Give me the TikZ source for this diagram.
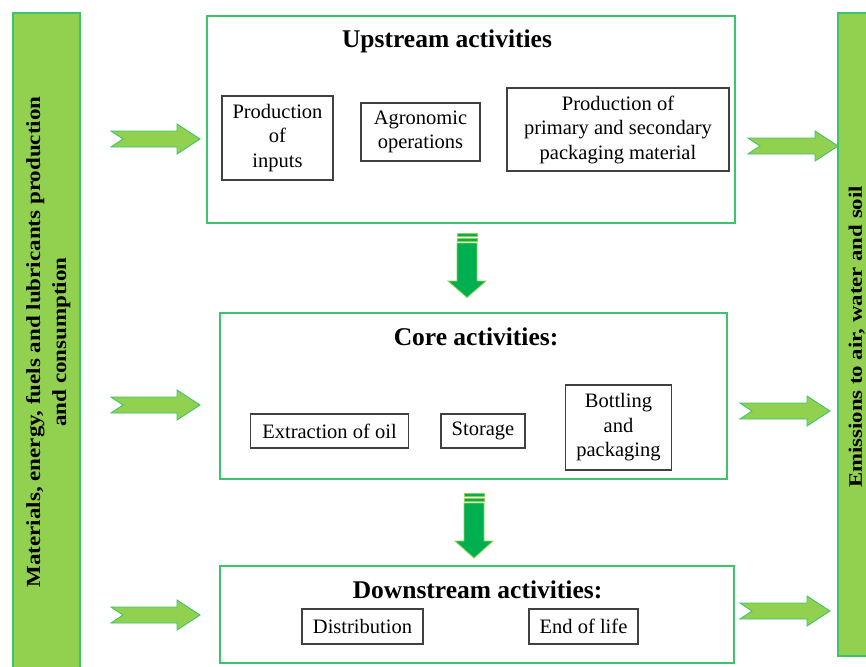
\documentclass[tikz,border=0pt]{standalone}
\usepackage{fontspec}
\usepackage{graphicx}
\setmainfont{Liberation Serif}
\definecolor{lg}{HTML}{92D050}
\definecolor{dg}{HTML}{00B050}
\definecolor{bx}{HTML}{3CC46A}
\newcommand{\myharrow}[3]{%
  \draw[harrow] ({#1},{#3-8}) -- ({#2-23},{#3-8}) -- ({#2-23},{#3-15}) -- ({#2},{#3})
    -- ({#2-23},{#3+15}) -- ({#2-23},{#3+8}) -- ({#1},{#3+8}) -- ({#1+12},{#3}) -- cycle;}
\newcommand{\myvarrow}[5]{%
  \draw[varrow] ({#1-10},{#2}) rectangle ({#1+10},{#2+3.5});
  \draw[varrow] ({#1-10},{#2+5}) rectangle ({#1+10},{#2+8.5});
  \draw[varrow] ({#1-10},{#3}) -- ({#1-10},{#4}) -- ({#1-19},{#4}) -- ({#1},{#5})
    -- ({#1+19},{#4}) -- ({#1+10},{#4}) -- ({#1+10},{#3}) -- cycle;}
\begin{document}
\begin{tikzpicture}[x=1pt,y=-1pt,
  bigbox/.style={draw=bx, line width=1.4pt, inner sep=0pt},
  subbox/.style={draw=black!75, line width=1.1pt, align=center, inner sep=0pt,
    font=\fontsize{20.5}{24.5}\selectfont},
  titletext/.style={font=\fontsize{25.5}{30}\selectfont\bfseries, anchor=base, inner sep=0pt},
  harrow/.style={fill=lg, draw=bx, line width=0.9pt, line join=miter},
  varrow/.style={fill=dg, draw=lg, line width=0.8pt},
  sidebar/.style={fill=lg, draw=bx, line width=1.2pt},
  sidetext/.style={rotate=90, inner sep=0pt}]
\useasboundingbox (0,0) rectangle (866,666);

% side bars
\draw[sidebar] (13,13) rectangle (80,680);
\draw[sidebar] (838,13) rectangle (890,656);
\node[sidetext] (lt) at (48,342) {\fontsize{20}{26}\selectfont\bfseries\scalebox{1.15}[1]{\begin{tabular}{@{}c@{}}Materials, energy, fuels and lubricants production\\and consumption\end{tabular}}};
\node[sidetext, anchor=south] (rt) at (865,337) {\fontsize{19}{26}\selectfont\bfseries\scalebox{1.2}[1]{Emissions to air, water and soil}};

% main boxes
\node[bigbox, minimum width=528pt, minimum height=207pt] (up) at (471,119.5) {};
\node[bigbox, minimum width=507pt, minimum height=166pt] (core) at (473.5,396) {};
\node[bigbox, minimum width=514pt, minimum height=97pt] (down) at (477,614.5) {};

% titles
\node[titletext] (upt) at (447,48) {Upstream activities};
\node[titletext] (coret) at (476,345) {Core activities:};
\node[titletext] (downt) at (477.5,598) {Downstream activities:};

% sub boxes upstream
\node[subbox, minimum width=111pt, minimum height=84pt] (pin) at (277.5,138) {Production\\of\\inputs};
\node[subbox, minimum width=119pt, minimum height=58pt] (agro) at (420.5,132) {Agronomic\\operations};
\node[subbox, minimum width=222pt, minimum height=83pt] (pack) at (618,129.5) {Production of\\primary and secondary\\packaging material};

% sub boxes core
\node[subbox, minimum width=158pt, minimum height=34pt] (ext) at (329.5,431) {Extraction of oil};
\node[subbox, minimum width=84pt, minimum height=34pt] (sto) at (483,431) {Storage};
\node[subbox, minimum width=106pt, minimum height=85pt] (bot) at (618.5,427.5) {Bottling\\and\\packaging};

% sub boxes downstream
\node[subbox, minimum width=121pt, minimum height=35pt] (dis) at (362.5,626.5) {Distribution};
\node[subbox, minimum width=109pt, minimum height=35pt] (eol) at (583.5,626.5) {End of life};

% horizontal arrows
\myharrow{111}{200}{139}
\myharrow{111}{200}{405}
\myharrow{111}{200}{615}
\myharrow{748}{838}{146}
\myharrow{740}{830}{411}
\myharrow{740}{830}{611}

% vertical arrows
\myvarrow{467}{233}{243}{281}{297.5}
\myvarrow{474}{493}{503}{541}{558}
\end{tikzpicture}
\end{document}
